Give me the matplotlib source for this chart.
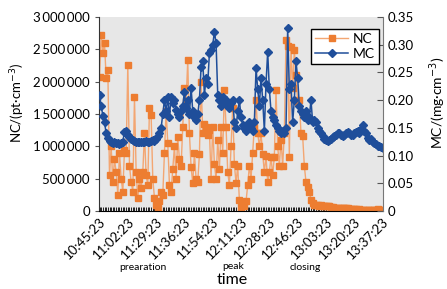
import matplotlib
matplotlib.use("Agg")
import matplotlib.pyplot as plt
import numpy as np
from matplotlib.ticker import FuncFormatter, FixedLocator, MultipleLocator

# NC in millions of particles per cm^3, one value per sample
NC_MILLIONS = [
    2.07, 2.72, 2.45, 2.60, 2.05, 2.18, 0.55, 1.00, 0.45, 0.80,
    0.60, 0.25, 0.90, 0.50, 0.30, 0.95, 0.90, 2.26, 0.70, 0.45,
    0.30, 1.76, 0.60, 0.20, 0.50, 0.35, 0.60, 1.20, 0.55, 0.40,
    1.60, 1.48, 0.50, 0.20, 0.10, 0.05, 0.15, 0.30, 0.25, 0.90,
    1.55, 1.05, 0.40, 0.30, 0.65, 1.00, 0.50, 1.14, 0.80, 0.70,
    1.30, 1.90, 1.70, 2.33, 1.20, 0.68, 0.43, 0.90, 0.50, 0.45,
    0.88, 2.00, 1.20, 1.35, 1.30, 1.17, 1.25, 0.50, 1.30, 0.72,
    0.50, 1.10, 0.65, 1.30, 0.90, 1.87, 1.30, 0.60, 0.40, 1.00,
    1.60, 0.72, 0.43, 0.70, 0.17, 0.06, 0.10, 0.08, 0.15, 0.40,
    0.70, 0.50, 0.90, 1.30, 1.72, 1.20, 1.00, 1.20, 0.88, 0.60,
    0.85, 0.45, 0.60, 0.84, 0.55, 0.84, 1.87, 1.00, 0.70, 1.10,
    0.70, 1.20, 2.64, 2.55, 0.84, 2.54, 1.90, 2.49, 2.10, 1.68,
    1.72, 1.20, 1.16, 0.70, 0.45, 0.37, 0.30, 0.17, 0.12, 0.10,
    0.10, 0.09, 0.08, 0.09, 0.08, 0.08, 0.07, 0.07, 0.07, 0.06,
    0.06, 0.05, 0.05, 0.05, 0.05, 0.05, 0.04, 0.04, 0.04, 0.04,
    0.03, 0.03, 0.03, 0.03, 0.03, 0.02, 0.03, 0.02, 0.02, 0.02,
    0.02, 0.02, 0.02, 0.02, 0.02, 0.02, 0.02, 0.03, 0.02, 0.02,
    0.02,
]

# MC in mg/cm^3
MC = [
    0.210, 0.190, 0.172, 0.160, 0.140, 0.132, 0.127, 0.125, 0.123, 0.124,
    0.122, 0.123, 0.121, 0.122, 0.125, 0.143, 0.145, 0.138, 0.133, 0.130,
    0.128, 0.126, 0.125, 0.125, 0.124, 0.125, 0.124, 0.125, 0.126, 0.125,
    0.125, 0.126, 0.128, 0.127, 0.130, 0.135, 0.140, 0.150, 0.175, 0.200,
    0.180, 0.205, 0.170, 0.206, 0.195, 0.200, 0.182, 0.175, 0.170, 0.180,
    0.190, 0.215, 0.185, 0.200, 0.175, 0.222, 0.180, 0.170, 0.164, 0.175,
    0.200, 0.260, 0.270, 0.210, 0.240, 0.230, 0.285, 0.290, 0.300, 0.323,
    0.303, 0.210, 0.200, 0.190, 0.205, 0.195, 0.200, 0.190, 0.185, 0.195,
    0.200, 0.160, 0.150, 0.180, 0.200, 0.170, 0.155, 0.150, 0.145, 0.150,
    0.160, 0.150, 0.145, 0.160, 0.258, 0.220, 0.190, 0.240, 0.200, 0.145,
    0.230, 0.287, 0.220, 0.180, 0.170, 0.165, 0.155, 0.150, 0.145, 0.140,
    0.145, 0.140, 0.150, 0.330, 0.220, 0.230, 0.160, 0.200, 0.270, 0.240,
    0.190, 0.180, 0.175, 0.170, 0.180, 0.165, 0.170, 0.200, 0.160, 0.165,
    0.160, 0.150, 0.145, 0.140, 0.135, 0.130, 0.128, 0.127, 0.128, 0.130,
    0.133, 0.136, 0.138, 0.140, 0.140, 0.138, 0.136, 0.137, 0.140, 0.142,
    0.140, 0.138, 0.137, 0.140, 0.143, 0.145, 0.140, 0.148, 0.155, 0.145,
    0.140, 0.132, 0.128, 0.130, 0.125, 0.122, 0.120, 0.118, 0.117, 0.115,
    0.114,
]

TIME_LABELS = ["10:45:23", "11:02:23", "11:29:23", "11:36:23", "11:54:23",
               "12:11:23", "12:28:23", "12:46:23", "13:03:23", "13:20:23",
               "13:37:23"]
PHASES = ["prearation", "peak", "closing"]

ORANGE = "#ED7D31"
ORANGE_LINE = "#F3A672"
BLUE = "#1F4E9A"
FONT = "Lato"

nc = np.array(NC_MILLIONS) * 1e6
mc = np.array(MC)
n = len(nc)
x = np.arange(n)
step = (n - 1) // (len(TIME_LABELS) - 1)

plt.rcParams["font.family"] = [FONT, "DejaVu Sans"]

fig = plt.figure(figsize=(4.47, 2.89), dpi=100)
ax = fig.add_axes([0.2215, 0.27, 0.6355, 0.671])
ax.set_facecolor("#e7e7e7")
ax2 = ax.twinx()

l1, = ax.plot(x, nc, color=ORANGE_LINE, lw=1.0, marker="s", ms=4.4,
              mfc=ORANGE, mec=ORANGE, label="NC")
l2, = ax2.plot(x, mc, color=BLUE, lw=1.1, marker="D", ms=4.0,
               mfc=BLUE, mec=BLUE, label="MC")

ax.set_xlim(-0.3, n - 0.7)
ax.set_ylim(0, 3_000_000)
ax2.set_ylim(0, 0.35)

ax.yaxis.set_major_locator(MultipleLocator(500_000))
ax.yaxis.set_major_formatter(FuncFormatter(
    lambda v, p: f"{v:,.0f}".replace(",", "\u2009")))
ax2.yaxis.set_major_locator(MultipleLocator(0.05))
ax2.yaxis.set_major_formatter(FuncFormatter(
    lambda v, p: "0" if abs(v) < 1e-9 else f"{v:.2f}"))

ax.xaxis.set_major_locator(FixedLocator(x[::step][:len(TIME_LABELS)]))
ax.set_xticklabels(TIME_LABELS, rotation=45, ha="right",
                   rotation_mode="anchor", fontsize=9.5)
ax.xaxis.set_minor_locator(FixedLocator(x))
ax.tick_params(axis="x", which="both", direction="in", length=3,
               width=0.6, color="black", pad=3)
ax.tick_params(axis="y", length=3, labelsize=9.5, color="#555555")
ax2.tick_params(axis="y", direction="in", length=4, labelsize=9.5,
                color="#555555")

ax.spines["top"].set_visible(False)
ax2.spines["top"].set_visible(False)
ax2.spines["right"].set_color("#777777")
ax.spines["right"].set_visible(False)
ax2.spines["left"].set_visible(False)
ax2.spines["bottom"].set_visible(False)
ax.spines["left"].set_color("#333333")
ax.spines["bottom"].set_color("black")

ax.set_ylabel("NC/(pt·cm$^{-3}$)", fontsize=9.5)
ax.yaxis.set_label_coords(-0.255, 0.56)
ax2.set_ylabel("MC/(mg·cm$^{-3}$)", fontsize=10)
ax2.yaxis.set_label_coords(1.155, 0.56)
ax.text(0.47, -0.355, "time", transform=ax.transAxes, fontsize=11.5,
        ha="center", va="center")

phase_pos = [(0.155, -0.294), (0.472, -0.284), (0.725, -0.294)]
for name, (px, py) in zip(PHASES, phase_pos):
    ax.text(px, py, name, transform=ax.transAxes, fontsize=7.5,
            ha="center", va="center")

leg = ax2.legend(handles=[l1, l2], loc="upper right",
                 bbox_to_anchor=(0.985, 0.94), fancybox=False,
                 framealpha=1, edgecolor="black", fontsize=10,
                 handlelength=2.4, borderpad=0.3, labelspacing=0.2,
                 handletextpad=0.3, borderaxespad=0)
leg.get_frame().set_linewidth(1.0)

fig.savefig("out.png", dpi=100, facecolor="white")
